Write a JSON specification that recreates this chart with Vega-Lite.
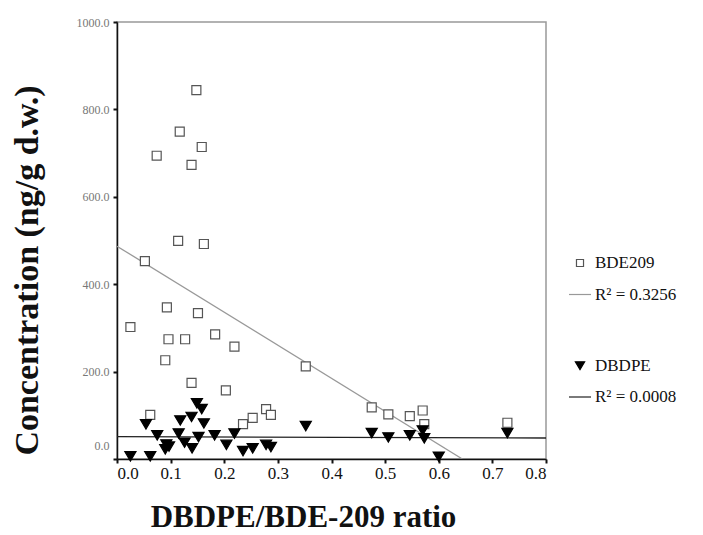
{
  "$schema": "https://vega.github.io/schema/vega-lite/v6.json",
  "width": 429,
  "height": 437,
  "autosize": {"type": "none"},
  "padding": {"left": 117, "top": 22, "right": 157, "bottom": 76},
  "background": "white",
  "config": {
    "view": {"stroke": "#999", "strokeWidth": 1.5},
    "font": "Liberation Serif",
    "legend": {
      "title": null,
      "orient": "none",
      "legendX": 451,
      "legendY": 229,
      "labelFont": "Liberation Serif",
      "labelFontSize": 17,
      "labelColor": "#111",
      "labelOffset": 3,
      "rowPadding": 11.5,
      "symbolStrokeWidth": 1.2,
      "symbolSize": 484,
      "padding": 0
    }
  },
  "datasets": {
    "points": [
      {"ratio": 0.148, "conc": 844, "series": "BDE209"},
      {"ratio": 0.117, "conc": 749, "series": "BDE209"},
      {"ratio": 0.158, "conc": 714, "series": "BDE209"},
      {"ratio": 0.074, "conc": 694, "series": "BDE209"},
      {"ratio": 0.139, "conc": 673, "series": "BDE209"},
      {"ratio": 0.114, "conc": 499, "series": "BDE209"},
      {"ratio": 0.162, "conc": 492, "series": "BDE209"},
      {"ratio": 0.052, "conc": 453, "series": "BDE209"},
      {"ratio": 0.025, "conc": 302, "series": "BDE209"},
      {"ratio": 0.093, "conc": 347, "series": "BDE209"},
      {"ratio": 0.151, "conc": 334, "series": "BDE209"},
      {"ratio": 0.096, "conc": 274, "series": "BDE209"},
      {"ratio": 0.127, "conc": 274, "series": "BDE209"},
      {"ratio": 0.183, "conc": 285, "series": "BDE209"},
      {"ratio": 0.219, "conc": 257, "series": "BDE209"},
      {"ratio": 0.090, "conc": 226, "series": "BDE209"},
      {"ratio": 0.352, "conc": 212, "series": "BDE209"},
      {"ratio": 0.139, "conc": 174, "series": "BDE209"},
      {"ratio": 0.203, "conc": 157, "series": "BDE209"},
      {"ratio": 0.062, "conc": 101, "series": "BDE209"},
      {"ratio": 0.278, "conc": 114, "series": "BDE209"},
      {"ratio": 0.287, "conc": 101, "series": "BDE209"},
      {"ratio": 0.253, "conc": 94, "series": "BDE209"},
      {"ratio": 0.235, "conc": 80, "series": "BDE209"},
      {"ratio": 0.475, "conc": 118, "series": "BDE209"},
      {"ratio": 0.506, "conc": 102, "series": "BDE209"},
      {"ratio": 0.546, "conc": 98, "series": "BDE209"},
      {"ratio": 0.570, "conc": 111, "series": "BDE209"},
      {"ratio": 0.573, "conc": 80, "series": "BDE209"},
      {"ratio": 0.728, "conc": 83, "series": "BDE209"},
      {"ratio": 0.025, "conc": 7, "series": "DBDPE"},
      {"ratio": 0.062, "conc": 7, "series": "DBDPE"},
      {"ratio": 0.054, "conc": 80, "series": "DBDPE"},
      {"ratio": 0.075, "conc": 55, "series": "DBDPE"},
      {"ratio": 0.092, "conc": 34, "series": "DBDPE"},
      {"ratio": 0.097, "conc": 29, "series": "DBDPE"},
      {"ratio": 0.090, "conc": 23, "series": "DBDPE"},
      {"ratio": 0.115, "conc": 59, "series": "DBDPE"},
      {"ratio": 0.118, "conc": 89, "series": "DBDPE"},
      {"ratio": 0.126, "conc": 38, "series": "DBDPE"},
      {"ratio": 0.140, "conc": 25, "series": "DBDPE"},
      {"ratio": 0.139, "conc": 97, "series": "DBDPE"},
      {"ratio": 0.149, "conc": 128, "series": "DBDPE"},
      {"ratio": 0.158, "conc": 115, "series": "DBDPE"},
      {"ratio": 0.162, "conc": 82, "series": "DBDPE"},
      {"ratio": 0.152, "conc": 51, "series": "DBDPE"},
      {"ratio": 0.182, "conc": 55, "series": "DBDPE"},
      {"ratio": 0.204, "conc": 33, "series": "DBDPE"},
      {"ratio": 0.219, "conc": 59, "series": "DBDPE"},
      {"ratio": 0.235, "conc": 19, "series": "DBDPE"},
      {"ratio": 0.253, "conc": 25, "series": "DBDPE"},
      {"ratio": 0.278, "conc": 33, "series": "DBDPE"},
      {"ratio": 0.287, "conc": 28, "series": "DBDPE"},
      {"ratio": 0.352, "conc": 76, "series": "DBDPE"},
      {"ratio": 0.475, "conc": 60, "series": "DBDPE"},
      {"ratio": 0.506, "conc": 50, "series": "DBDPE"},
      {"ratio": 0.546, "conc": 55, "series": "DBDPE"},
      {"ratio": 0.570, "conc": 66, "series": "DBDPE"},
      {"ratio": 0.573, "conc": 48, "series": "DBDPE"},
      {"ratio": 0.600, "conc": 6, "series": "DBDPE"},
      {"ratio": 0.728, "conc": 60, "series": "DBDPE"}
    ],
    "fits": [
      {"ratio": 0.0, "conc": 487, "series": "BDE209"},
      {"ratio": 0.644, "conc": 0, "series": "BDE209"},
      {"ratio": 0.0, "conc": 51, "series": "DBDPE"},
      {"ratio": 0.8, "conc": 48, "series": "DBDPE"}
    ]
  },
  "encoding": {
    "x": {
      "field": "ratio",
      "type": "quantitative",
      "scale": {"domain": [0, 0.8], "nice": false},
      "axis": {
        "values": [0, 0.1, 0.2, 0.3, 0.4, 0.5, 0.6, 0.7, 0.8],
        "format": ".1f",
        "grid": false,
        "domainColor": "#111",
        "domainWidth": 1.5,
        "tickColor": "#111",
        "tickWidth": 2,
        "tickSize": 4,
        "labelFont": "Liberation Serif",
        "labelFontSize": 17,
        "labelColor": "#111",
        "labelPadding": 2,
        "title": "DBDPE/BDE-209 ratio",
        "titleFont": "Liberation Serif",
        "titleFontSize": 31,
        "titleFontWeight": "bold",
        "titleColor": "#111",
        "titleX": 186,
        "titleY": 58,
        "titleBaseline": "middle"
      }
    },
    "y": {
      "field": "conc",
      "type": "quantitative",
      "scale": {"domain": [0, 1000], "nice": false},
      "axis": {
        "values": [0, 200, 400, 600, 800, 1000],
        "format": ".1f",
        "grid": false,
        "domainColor": "#111",
        "domainWidth": 1.5,
        "tickColor": "#111",
        "tickWidth": 2,
        "tickSize": 4,
        "labelFont": "Liberation Serif",
        "labelFontSize": 12,
        "labelColor": "#777",
        "labelPadding": 4,
        "labelOffset": {"condition": {"test": "datum.value == 0", "value": -14}, "value": 0},
        "title": "Concentration (ng/g d.w.)",
        "titleFont": "Liberation Serif",
        "titleFontSize": 34,
        "titleFontWeight": "bold",
        "titleColor": "#111",
        "titleAngle": -90,
        "titleX": -90,
        "titleY": 248,
        "titleBaseline": "middle",
        "titleAlign": "center"
      }
    }
  },
  "layer": [
    {
      "data": {"name": "fits"},
      "transform": [{"filter": "datum.series == 'BDE209'"}],
      "mark": {"type": "line", "clip": true, "color": "#999", "strokeWidth": 1.3},
      "encoding": {}
    },
    {
      "data": {"name": "fits"},
      "transform": [{"filter": "datum.series == 'DBDPE'"}],
      "mark": {"type": "line", "clip": true, "color": "#222", "strokeWidth": 1.3},
      "encoding": {}
    },
    {
      "data": {"name": "points"},
      "mark": {"type": "point", "filled": false, "strokeWidth": 1.2, "opacity": 1},
      "encoding": {
        "shape": {
          "field": "series",
          "type": "nominal",
          "scale": {
            "domain": ["BDE209", "R² = 0.3256", " ", "DBDPE", "R² = 0.0008"],
            "range": ["M-0.32,-0.32H0.32V0.32H-0.32Z", "stroke", "circle", "M-0.42,-0.33L0.42,-0.33L0,0.38Z", "stroke"]
          }
        },
        "fill": {
          "field": "series",
          "type": "nominal",
          "scale": {
            "domain": ["BDE209", "R² = 0.3256", " ", "DBDPE", "R² = 0.0008"],
            "range": ["white", "#999", "white", "#000", "#222"]
          }
        },
        "stroke": {
          "field": "series",
          "type": "nominal",
          "scale": {
            "domain": ["BDE209", "R² = 0.3256", " ", "DBDPE", "R² = 0.0008"],
            "range": ["#555", "#999", "white", "#000", "#222"]
          }
        },
        "size": {"condition": {"test": "datum.series == 'DBDPE'", "value": 700}, "value": 790}
      }
    }
  ]
}
